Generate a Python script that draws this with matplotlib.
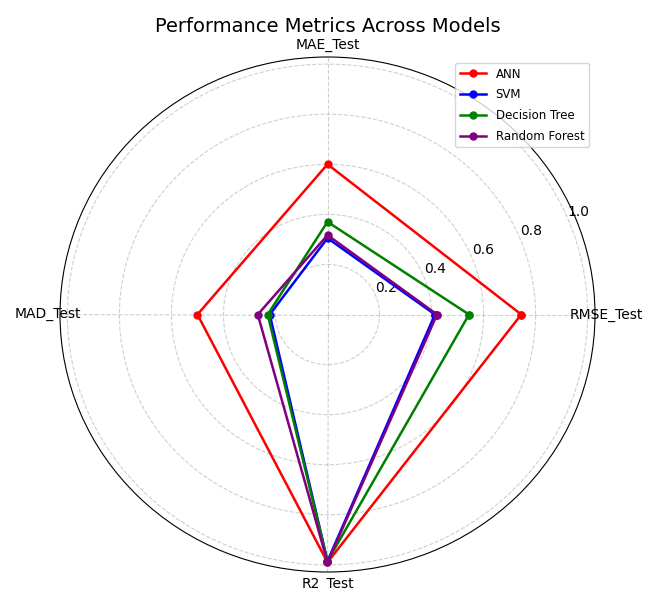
import numpy as np
import matplotlib
matplotlib.use("Agg")
import matplotlib.pyplot as plt

# test-set error metrics for each model
metrics = ['RMSE_Test', 'MAE_Test', 'MAD_Test', 'R2_Test']
models = ['ANN', 'SVM', 'Decision Tree', 'Random Forest']
colors = ['red', 'blue', 'green', 'purple']

ann = [0.745, 0.60, 0.50, 0.99]
svm = [0.413, 0.305, 0.222, 0.985]
dtree = [0.544, 0.37, 0.23, 0.985]
rforest = [0.421, 0.317, 0.268, 0.99]

values = [ann, svm, dtree, rforest]

angles = np.linspace(0, 2 * np.pi, len(metrics), endpoint=False).tolist()
angles += angles[:1]

fig = plt.figure(figsize=(6.52, 5.90), dpi=100)
ax = fig.add_axes([60 / 652, 18 / 590, 535 / 652, 515 / 590], polar=True)
ax.set_aspect('auto')

for name, vals, c in zip(models, values, colors):
    v = vals + vals[:1]
    ax.plot(angles, v, color=c, linewidth=1.8, marker='o', markersize=5, label=name)

ax.set_xticks(angles[:-1])
ax.set_xticklabels(metrics, fontsize=10)
ax.tick_params(axis='x', pad=-2)
ax.grid(True, linestyle='--', alpha=0.6)

ax.set_title('Performance Metrics Across Models', fontsize=14, pad=0, y=1.0485)
ax.legend(loc='upper right', fontsize=8.5, labelspacing=0.65, handlelength=2.2)

fig.savefig('out.png', dpi=100)
